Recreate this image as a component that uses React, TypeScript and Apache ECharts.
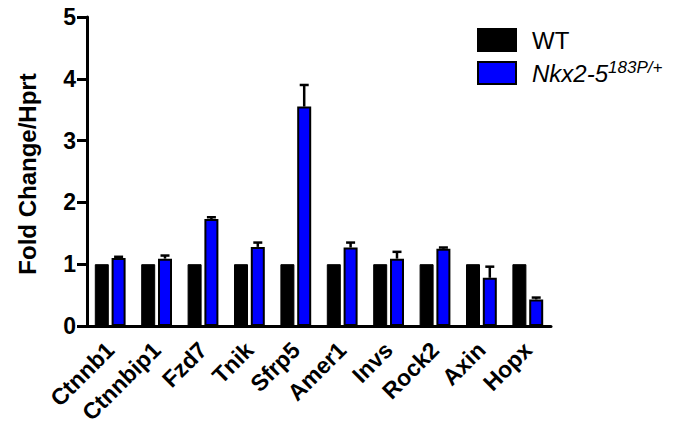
import React, { useEffect, useRef } from "react";
import * as echarts from "echarts";

const categories = ["Ctnnb1", "Ctnnbip1", "Fzd7", "Tnik", "Sfrp5", "Amer1", "Invs", "Rock2", "Axin", "Hopx"];
const wtValues = [1, 1, 1, 1, 1, 1, 1, 1, 1, 1];
const mutValues = [1.1, 1.09, 1.73, 1.28, 3.55, 1.27, 1.09, 1.25, 0.78, 0.43];
const mutErrors = [0.02, 0.05, 0.03, 0.07, 0.35, 0.08, 0.11, 0.02, 0.18, 0.03];
const yTicks = [0, 1, 2, 3, 4, 5];

const FONT = "'Liberation Sans', Arial, sans-serif";
const BAR_W = 14;
const BAR_GAP_PCT = 20;

export default function App() {
  const ref = useRef<HTMLDivElement>(null);
  useEffect(() => {
    document.body.style.margin = "0";
    if (!ref.current) return;
    const chart = echarts.init(ref.current, null, { renderer: "svg" });
    const offset = (BAR_W + (BAR_W * BAR_GAP_PCT) / 100) / 2;
    chart.setOption({
      animation: false,
      textStyle: { fontFamily: FONT },
      grid: { left: 87, right: 126, top: 17, bottom: 110, containLabel: false },
      legend: {
        orient: "vertical",
        left: 477,
        top: 28,
        padding: 0,
        itemWidth: 38,
        itemHeight: 22,
        itemGap: 7,
        icon: "rect",
        data: ["WT", "Nkx2-5"],
        formatter: (name: string) =>
          name === "WT" ? "{n|WT}" : "{i|Nkx2-5}{s|183P/+}",
        textStyle: {
          padding: [0, 0, 0, 11],
          rich: {
            n: { fontSize: 24, fontFamily: FONT, color: "#000" },
            i: { fontSize: 24, fontFamily: FONT, fontStyle: "italic", color: "#000" },
            s: { fontSize: 17, fontFamily: FONT, fontStyle: "italic", color: "#000", padding: [0, 0, 11, 0] },
          },
        },
      },
      xAxis: {
        type: "category",
        data: categories,
        boundaryGap: true,
        axisLine: { lineStyle: { color: "#000", width: 3 } },
        axisTick: { alignWithLabel: true, length: 10, lineStyle: { color: "#000", width: 3 } },
        axisLabel: {
          rotate: 45,
          margin: 20,
          interval: 0,
          fontSize: 23,
          fontWeight: "bold",
          fontFamily: FONT,
          color: "#000",
        },
      },
      yAxis: {
        type: "value",
        min: yTicks[0],
        max: yTicks[yTicks.length - 1],
        interval: 1,
        axisLine: { show: true, lineStyle: { color: "#000", width: 3 } },
        axisTick: { show: true, length: 10, lineStyle: { color: "#000", width: 3 } },
        splitLine: { show: false },
        axisLabel: {
          margin: 11,
          fontSize: 23,
          fontWeight: "bold",
          fontFamily: FONT,
          color: "#000",
        },
      },
      graphic: [
        {
          type: "text",
          x: 27,
          y: 174,
          rotation: Math.PI / 2,
          style: {
            text: "Fold Change/Hprt",
            fontSize: 24,
            fontWeight: "bold",
            fontFamily: FONT,
            fill: "#000",
            align: "center",
            verticalAlign: "middle",
          },
        },
      ],
      series: [
        {
          name: "WT",
          type: "bar",
          data: wtValues,
          barWidth: BAR_W,
          barGap: BAR_GAP_PCT + "%",
          itemStyle: { color: "#000", borderColor: "#000", borderWidth: 1 },
        },
        {
          name: "Nkx2-5",
          type: "bar",
          data: mutValues,
          barWidth: BAR_W,
          itemStyle: { color: "#0000ff", borderColor: "#000", borderWidth: 2 },
        },
        {
          name: "err",
          type: "custom",
          z: 5,
          data: mutValues.map((v, i) => [i, v, mutErrors[i]]),
          renderItem: (params: any, api: any) => {
            const x = api.coord([api.value(0), 0])[0] + offset;
            const yBase = api.coord([api.value(0), api.value(1)])[1];
            const yTop = api.coord([api.value(0), api.value(1) + api.value(2)])[1];
            const style = { stroke: "#000", lineWidth: 2.5 };
            return {
              type: "group",
              children: [
                { type: "line", shape: { x1: x, y1: yBase, x2: x, y2: yTop }, style },
                { type: "line", shape: { x1: x - 4.5, y1: yTop, x2: x + 4.5, y2: yTop }, style },
              ],
            };
          },
        },
      ],
    });
    return () => chart.dispose();
  }, []);
  return <div ref={ref} style={{ width: 677, height: 436 }} />;
}
